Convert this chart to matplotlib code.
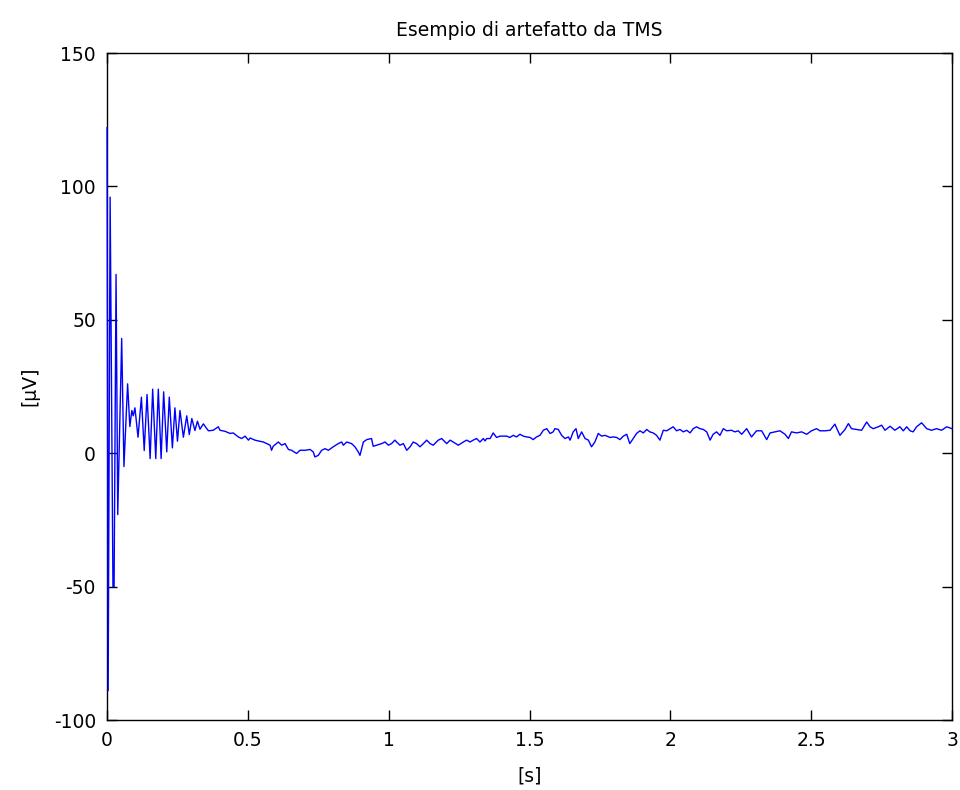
import numpy as np
import matplotlib
matplotlib.use('Agg')
import matplotlib.pyplot as plt

# TMS artefact: ringing right after the pulse
t_artifact = [0.000, 0.004, 0.011, 0.021, 0.025, 0.032, 0.038, 0.052, 0.060,
              0.073, 0.081, 0.088, 0.093, 0.099, 0.110, 0.122, 0.132, 0.142,
              0.153, 0.162, 0.173, 0.182, 0.192, 0.201, 0.212, 0.221, 0.232,
              0.241, 0.250, 0.259, 0.271, 0.283, 0.292, 0.301, 0.312, 0.321,
              0.330, 0.342, 0.352]
v_artifact = [122, -89, 96, -50, -50, 67, -23, 43, -5,
              26, 10, 16, 14, 17, 6, 21, 1, 22,
              -2, 24, -2, 24, -2, 23, 0.5, 21, 2,
              17, 4.5, 16, 6, 14, 7, 13, 8.5, 12,
              9, 11, 9.5]

# slow baseline after the artefact
t_baseline = [0.360, 0.377, 0.395, 0.401, 0.419, 0.437, 0.448, 0.466, 0.478, 0.490,
              0.502, 0.508, 0.525, 0.537, 0.555, 0.567, 0.579, 0.584, 0.590, 0.608,
              0.620, 0.632, 0.644, 0.655, 0.673, 0.685, 0.703, 0.721, 0.732, 0.738,
              0.750, 0.762, 0.774, 0.786, 0.803, 0.821, 0.833, 0.839, 0.851, 0.868,
              0.880, 0.892, 0.898, 0.910, 0.922, 0.939, 0.945, 0.957, 0.975, 0.987,
              0.999, 1.010, 1.022, 1.028, 1.040, 1.052, 1.064, 1.076, 1.087, 1.099,
              1.111, 1.123, 1.135, 1.147, 1.158, 1.176, 1.188, 1.206, 1.218, 1.229,
              1.247, 1.265, 1.277, 1.289, 1.300, 1.312, 1.324, 1.336, 1.342, 1.348,
              1.360, 1.371, 1.383, 1.395, 1.419, 1.430, 1.442, 1.454, 1.466, 1.478,
              1.490, 1.502, 1.513, 1.525, 1.537, 1.549, 1.561, 1.573, 1.584, 1.590,
              1.602, 1.614, 1.626, 1.638, 1.644, 1.655, 1.665, 1.673, 1.685, 1.697,
              1.709, 1.720, 1.732, 1.744, 1.756, 1.768, 1.786, 1.797, 1.809, 1.821,
              1.833, 1.845, 1.856, 1.868, 1.880, 1.892, 1.904, 1.916, 1.927, 1.939,
              1.951, 1.963, 1.975, 1.987, 1.999, 2.010, 2.022, 2.034, 2.046, 2.058,
              2.070, 2.081, 2.093, 2.105, 2.117, 2.129, 2.141, 2.152, 2.164, 2.176,
              2.188, 2.200, 2.217, 2.229, 2.241, 2.253, 2.271, 2.288, 2.306, 2.324,
              2.342, 2.354, 2.371, 2.389, 2.407, 2.419, 2.430, 2.448, 2.466, 2.484,
              2.501, 2.519, 2.531, 2.549, 2.567, 2.584, 2.602, 2.620, 2.632, 2.643,
              2.661, 2.679, 2.697, 2.709, 2.720, 2.738, 2.750, 2.762, 2.780, 2.797,
              2.815, 2.827, 2.839, 2.851, 2.862, 2.874, 2.892, 2.910, 2.927, 2.945,
              2.963, 2.981, 3.000]
v_baseline = [8.4, 8.6, 9.9, 8.6, 8.2, 7.4, 7.6, 6.1, 5.5, 6.4,
              4.9, 5.7, 4.9, 4.6, 4.2, 3.6, 3.0, 1.1, 2.6, 4.2,
              3.0, 3.6, 1.4, 1.1, -0.1, 1.1, 1.1, 1.4, 0.5, -1.4,
              -0.8, 1.1, 1.7, 1.1, 2.4, 3.6, 4.2, 3.0, 4.2, 3.6,
              2.4, 0.5, -0.8, 4.2, 5.1, 5.5, 2.6, 3.0, 3.6, 4.2,
              3.0, 3.6, 4.9, 4.2, 3.0, 3.6, 1.1, 2.4, 4.2, 3.6,
              2.4, 3.6, 4.9, 3.6, 3.0, 4.9, 5.5, 3.6, 4.9, 4.2,
              3.0, 4.2, 4.9, 4.2, 4.9, 5.5, 4.2, 5.5, 4.6, 5.5,
              5.5, 7.6, 5.9, 6.4, 6.4, 5.9, 6.7, 6.1, 7.1, 6.4,
              6.1, 5.9, 5.1, 6.1, 6.7, 8.6, 9.2, 7.4, 8.0, 9.2,
              8.9, 6.7, 5.5, 6.1, 4.9, 8.0, 9.2, 5.5, 8.0, 5.5,
              4.9, 2.4, 4.2, 7.4, 6.4, 6.7, 5.9, 6.1, 5.9, 5.1,
              6.4, 7.1, 3.6, 5.5, 7.4, 8.4, 7.6, 8.9, 8.0, 7.6,
              6.7, 4.9, 8.6, 8.4, 9.2, 9.9, 8.4, 8.9, 8.0, 8.6,
              7.6, 9.2, 9.9, 9.2, 8.9, 8.0, 4.9, 7.1, 8.0, 6.7,
              9.2, 8.4, 8.6, 8.0, 8.4, 7.1, 9.2, 6.1, 8.4, 8.4,
              5.1, 7.6, 8.0, 8.4, 7.1, 5.5, 8.0, 7.6, 8.0, 7.1,
              8.4, 9.2, 8.4, 8.4, 8.6, 10.9, 6.7, 8.9, 11.1, 9.2,
              8.9, 8.6, 11.7, 9.9, 9.2, 9.9, 10.5, 8.6, 10.1, 8.6,
              9.9, 8.4, 9.9, 8.4, 8.0, 9.9, 11.4, 9.2, 8.6, 9.2,
              8.6, 9.9, 9.2]

x_ticks = [0, 0.5, 1, 1.5, 2, 2.5, 3]
x_ticklabels = ['0', '0.5', '1', '1.5', '2', '2.5', '3']
y_ticks = [-100, -50, 0, 50, 100, 150]

t = np.concatenate([t_artifact, t_baseline])
v = np.concatenate([v_artifact, v_baseline])

plt.rcParams['font.family'] = ['DejaVu Sans']
plt.rcParams['axes.unicode_minus'] = False

fig = plt.figure(figsize=(9.6, 7.9), dpi=100)
ax = fig.add_axes([0.1115, 0.0886, 0.8802, 0.8443])

# drawn above the spines and unclipped so the first spike on x=0 stays visible
ax.plot(t, v, color='#0000ff', linewidth=1.0, zorder=3, clip_on=False)

ax.set_xlim(0, 3)
ax.set_ylim(-100, 150)
ax.set_xticks(x_ticks)
ax.set_xticklabels(x_ticklabels)
ax.set_yticks(y_ticks)
ax.tick_params(direction='in', length=7, width=1.0, labelsize=13.5,
               top=True, right=True, pad=8, colors='black')
for sp in ax.spines.values():
    sp.set_linewidth(1.0)
    sp.set_color('black')

ax.set_title("Esempio di artefatto da TMS", fontsize=13.5, pad=12)
ax.set_xlabel("[s]", fontsize=13.5, labelpad=12)
ax.set_ylabel("[\u00b5V]", fontsize=13.5, labelpad=10)

plt.savefig("out.png", dpi=100)
plt.close()
